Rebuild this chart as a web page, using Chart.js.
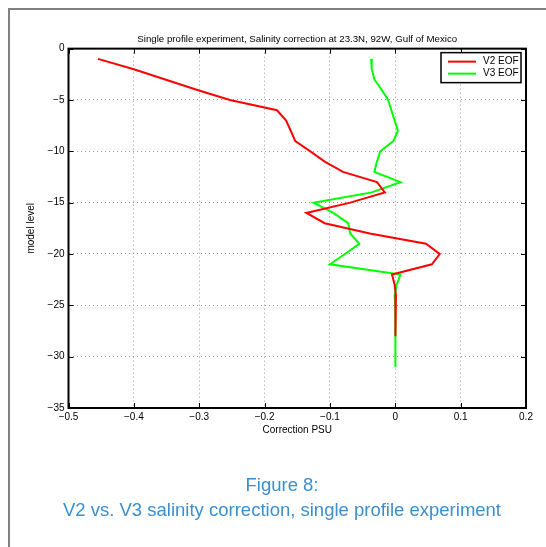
<!DOCTYPE html>
<html>
    <head>
        <title>Salinity correction</title>
        <meta charset="utf-8" />
        <script src="https://cdn.jsdelivr.net/npm/chart.js@4.4.0/dist/chart.umd.min.js"></script>
        <style>
            * {
                margin: 0;
                padding: 0;
                box-sizing: border-box;
            }
            body {
                background-color: #ffffff;
                width: 546px;
                height: 547px;
                overflow: hidden;
                position: relative;
                font-family: "Liberation Sans", Arial, sans-serif;
            }
            #frame {
                position: absolute;
                left: 8px;
                top: 8px;
                width: 600px;
                height: 600px;
                border-left: 2px solid #808080;
                border-top: 2px solid #808080;
            }
            #wrap {
                position: absolute;
                left: 0;
                top: 0;
                width: 546px;
                height: 547px;
            }
            .caption {
                position: absolute;
                left: 9px;
                width: 546px;
                text-align: center;
                color: #3a8fd0;
                font-size: 18.5px;
            }
        </style>
    </head>
    <body>
        <div id="frame"></div>
        <div id="wrap"><canvas id="myChart" width="546" height="547"></canvas></div>
        <div class="caption" style="top: 474px;">Figure 8:</div>
        <div class="caption" style="top: 499px;">V2 vs. V3 salinity correction, single profile experiment</div>

        <script>
            // model levels (y) and corrections (x)
            const levels = [-1, -2, -3, -4, -5, -6, -7, -8, -9, -10, -11, -12, -13, -14, -15, -16,
                -17, -18, -19, -20, -21, -22, -23, -24, -25, -26, -27, -28, -29, -30, -31];
            const v2Eof = [-0.455, -0.400, -0.352, -0.304, -0.253, -0.181, -0.167, -0.160, -0.153, -0.130,
                -0.108, -0.080, -0.028, -0.016, -0.069, -0.136, -0.108, -0.039, 0.047, 0.068,
                0.056, -0.005, -0.001, 0.001, 0.001, 0.000, 0.000, 0.000];
            const v3Eof = [-0.037, -0.036, -0.032, -0.021, -0.011, -0.006, -0.001, 0.004, -0.003, -0.023,
                -0.028, -0.032, 0.008, -0.036, -0.125, -0.095, -0.072, -0.069, -0.055, -0.077,
                -0.100, 0.008, 0.002, -0.001, 0.000, 0.001, 0.000, 0.000, 0.000, 0.000, 0.000];
            const xTicks = [-0.5, -0.4, -0.3, -0.2, -0.1, 0, 0.1, 0.2];
            const yTicks = [0, -5, -10, -15, -20, -25, -30, -35];

            const toPoints = vals => vals.map((v, i) => ({ x: v, y: levels[i] }));
            const fmt = v => {
                const n = Number(v.toFixed(1));
                return n < 0 ? '\u2212' + Math.abs(n) : String(n);
            };

            const data = {
                datasets: [{
                    label: 'V2 EOF',
                    borderColor: '#ff0000',
                    backgroundColor: '#ff0000',
                    data: toPoints(v2Eof)
                }, {
                    label: 'V3 EOF',
                    borderColor: '#00ff00',
                    backgroundColor: '#00ff00',
                    data: toPoints(v3Eof)
                }]
            };

            // matlab style box, inward ticks and legend
            const boxPlugin = {
                id: 'box',
                afterDraw(chart) {
                    const ctx = chart.ctx;
                    const a = chart.chartArea;
                    const xs = chart.scales.x, ys = chart.scales.y;
                    ctx.save();
                    ctx.strokeStyle = '#000';
                    ctx.lineWidth = 1;
                    xTicks.forEach(t => {
                        const px = Math.round(xs.getPixelForValue(t)) + 0.5;
                        ctx.beginPath();
                        ctx.moveTo(px, a.bottom); ctx.lineTo(px, a.bottom - 5);
                        ctx.moveTo(px, a.top); ctx.lineTo(px, a.top + 5);
                        ctx.stroke();
                    });
                    yTicks.forEach(t => {
                        const py = Math.round(ys.getPixelForValue(t)) + 0.5;
                        ctx.beginPath();
                        ctx.moveTo(a.left, py); ctx.lineTo(a.left + 5, py);
                        ctx.moveTo(a.right, py); ctx.lineTo(a.right - 5, py);
                        ctx.stroke();
                    });
                    ctx.lineWidth = 2;
                    ctx.strokeRect(a.left, a.top, a.right - a.left, a.bottom - a.top);

                    // legend
                    const lx = a.right - 85, ly = a.top + 4, lw = 80, lh = 30;
                    ctx.fillStyle = '#fff';
                    ctx.fillRect(lx, ly, lw, lh);
                    ctx.lineWidth = 1.5;
                    ctx.strokeRect(lx, ly, lw, lh);
                    ctx.font = '10px "Liberation Sans", Arial, sans-serif';
                    ctx.textBaseline = 'middle';
                    chart.data.datasets.forEach((ds, i) => {
                        const y = ly + 9 + i * 12;
                        ctx.strokeStyle = ds.borderColor;
                        ctx.lineWidth = 2;
                        ctx.beginPath();
                        ctx.moveTo(lx + 7, y); ctx.lineTo(lx + 35, y);
                        ctx.stroke();
                        ctx.fillStyle = '#000';
                        ctx.fillText(ds.label, lx + 42, y);
                    });
                    ctx.restore();
                }
            };

            const chartConfig = {
                type: 'scatter',
                data,
                options: {
                    responsive: false,
                    animation: false,
                    showLine: true,
                    elements: {
                        point: { radius: 0 },
                        line: { borderWidth: 2, tension: 0 }
                    },
                    layout: {
                        padding: { left: 0, top: 0, right: 20, bottom: 99 }
                    },
                    scales: {
                        x: {
                            type: 'linear',
                            min: -0.5,
                            max: 0.2,
                            afterBuildTicks: s => { s.ticks = xTicks.map(v => ({ value: v })); },
                            afterFit: s => { s.height = 40; },
                            grid: { color: '#9a9a9a', tickLength: 0, lineWidth: 1 },
                            border: { display: false, dash: [1, 3] },
                            ticks: {
                                color: '#000',
                                padding: 3,
                                maxRotation: 0,
                                font: { size: 10, family: '"Liberation Sans", Arial, sans-serif' },
                                callback: v => fmt(v)
                            },
                            title: {
                                display: true,
                                text: 'Correction PSU',
                                color: '#000',
                                padding: { top: 0, bottom: 12 },
                                font: { size: 10, family: '"Liberation Sans", Arial, sans-serif' }
                            }
                        },
                        y: {
                            type: 'linear',
                            min: -35,
                            max: 0,
                            afterBuildTicks: s => { s.ticks = yTicks.map(v => ({ value: v })); },
                            afterFit: s => { s.width = 68.5; },
                            grid: { color: '#9a9a9a', tickLength: 0, lineWidth: 1 },
                            border: { display: false, dash: [1, 3] },
                            ticks: {
                                color: '#000',
                                padding: 4,
                                font: { size: 10, family: '"Liberation Sans", Arial, sans-serif' },
                                callback: v => fmt(v)
                            },
                            title: {
                                display: true,
                                text: 'model level',
                                color: '#000',
                                padding: { top: 25, bottom: 0 },
                                font: { size: 10, family: '"Liberation Sans", Arial, sans-serif' }
                            }
                        }
                    },
                    plugins: {
                        legend: { display: false },
                        tooltip: { enabled: false },
                        title: {
                            display: true,
                            fullSize: false,
                            text: 'Single profile experiment, Salinity correction at 23.3N, 92W, Gulf of Mexico',
                            color: '#000',
                            padding: { top: 34, bottom: 3 },
                            font: { size: 9.7, weight: 'normal', family: '"Liberation Sans", Arial, sans-serif' }
                        }
                    }
                },
                plugins: [boxPlugin]
            };

            var myChart = new Chart(document.getElementById('myChart'), chartConfig);
        </script>
    </body>
</html>
